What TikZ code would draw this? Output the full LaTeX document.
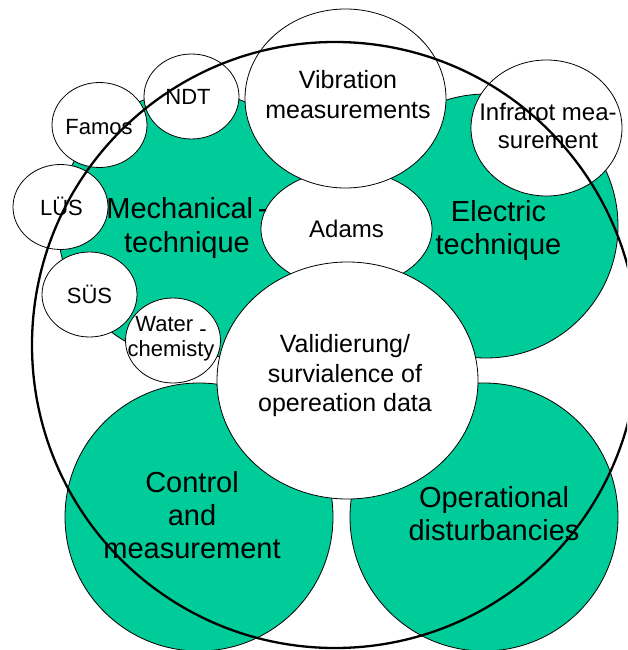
\documentclass[tikz,border=0pt]{standalone}
\usepackage{fontspec}
\setmainfont{Liberation Sans}
\usetikzlibrary{shapes.geometric,calc}
\definecolor{techgreen}{RGB}{0,204,153}
\tikzset{
  field/.style={circle, draw, line width=0.8pt, fill=techgreen, inner sep=0pt, minimum size=#1},
  topic/.style 2 args={ellipse, draw, line width=0.8pt, fill=white, inner sep=0pt, minimum width=#1, minimum height=#2},
  minor/.style={topic={95pt}{85pt}},
  bigtxt/.style={align=center, inner sep=0pt, font=\fontsize{29}{33}\selectfont},
  midtxt/.style={align=center, inner sep=0pt, font=\fontsize{25}{29.5}\selectfont},
  smalltxt/.style={align=center, inner sep=0pt, font=\fontsize{22}{25}\selectfont},
  ring/.style={circle, draw, line width=2.3pt, inner sep=0pt, minimum size=606pt}
}

\begin{document}
\begin{tikzpicture}[x=1pt, y=-1pt]
  \useasboundingbox (0,0) rectangle (627,650);
  \fill[white] (0,0) rectangle (627,650);
  \clip (0,0) rectangle (627,650);

  % green fields
  \node[field=268pt] (mech) at (192,225) {};
  \node[field=264pt] (elec) at (486,226) {};
  \node[field=268pt] (ctrl) at (199,517) {};
  \node[field=268pt] (oper) at (484,517) {};

  % white topics on top of them
  \node[topic={171pt}{118pt}] (adams) at (346.5,229) {};
  \node[topic={201pt}{179pt}] (vib) at (345.5,98.5) {};
  \node[topic={151pt}{136pt}] (ir) at (546.5,128) {};
  \node[topic={261pt}{237pt}] (valid) at (347.5,380.5) {};
  \node[minor] (ndt) at (191.5,96.5) {};
  \node[minor] (famos) at (99.5,125) {};
  \node[minor] (lues) at (60.5,207) {};
  \node[minor] (sues) at (89.5,294.5) {};
  \node[minor] (water) at (173,340.5) {};

  % labels
  \node[bigtxt] (mech-txt) at ($(mech)+(-5,3)$) {Mechanical\,-\\technique};
  \node[bigtxt] (elec-txt) at ($(elec)+(12.5,5)$) {Electric\\technique};
  \node[bigtxt] (ctrl-txt) at ($(ctrl)+(-7,-2)$) {Control\\and\\measurement};
  \node[bigtxt] (oper-txt) at ($(oper)+(10,-3)$) {Operational\\disturbancies};
  \node[midtxt] (vib-txt) at ($(vib)+(2.5,-4)$) {Vibration\\measurements};
  \node[midtxt] (valid-txt) at ($(valid)+(-2.5,-4.5)$) {Validierung/\\survialence of\\opereation data};
  \node[smalltxt, font=\fontsize{24}{27.5}\selectfont] (adams-txt) at (adams) {Adams};
  \node[smalltxt, font=\fontsize{24}{27.5}\selectfont] (ir-txt) at ($(ir)+(1.5,-2)$) {Infrarot mea-\\surement};
  \node[smalltxt] (ndt-txt) at ($(ndt)+(-3.5,0.7)$) {NDT};
  \node[smalltxt] (famos-txt) at ($(famos)+(-0.5,1.7)$) {Famos};
  \node[smalltxt] (lues-txt) at ($(lues)+(1,-1)$) {LÜS};
  \node[smalltxt] (sues-txt) at (sues) {SÜS};
  \node[smalltxt] (water-txt) at ($(water)+(-2,-2)$) {Water \raisebox{-5pt}[0pt][0pt]{-}\\chemisty};

  % outer frame
  \node[ring] (frame) at (335,345) {};
\end{tikzpicture}
\end{document}
